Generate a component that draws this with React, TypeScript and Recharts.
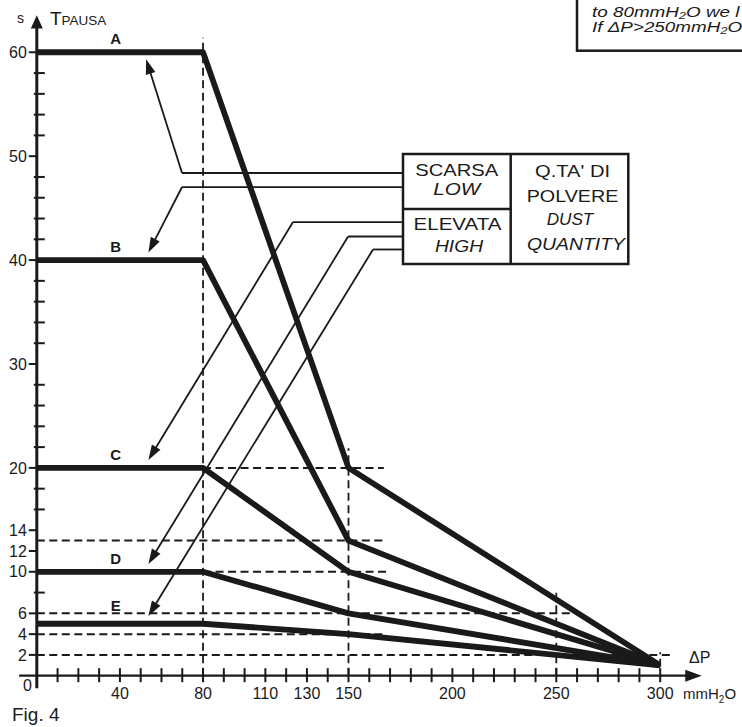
import React from 'react';
import { ComposedChart, Line, XAxis, YAxis, ReferenceLine, ReferenceDot, Label } from 'recharts';

// ---- data ----
const dp = [0, 80, 150, 300];
const curveA = [60, 60, 20, 1];
const curveB = [40, 40, 13, 1];
const curveC = [20, 20, 10, 1];
const curveD = [10, 10, 6, 1];
const curveE = [5, 5, 4, 1];
const curveNames = ['A', 'B', 'C', 'D', 'E'];
const curveStarts = [curveA[0], curveB[0], curveC[0], curveD[0], curveE[0]];

const xTicks = Array.from({ length: 31 }, (_, i) => i * 10);
const xLabelTicks = [40, 80, 110, 130, 150, 200, 250, 300];
const yTicks = Array.from({ length: 30 }, (_, i) => (i + 1) * 2);
const yLabelTicks = [2, 4, 6, 10, 12, 14, 20, 30, 40, 50, 60];

// dashed guide segments (data coordinates)
const guideV = [
  { x: 80, from: 0, to: 61.4 },
  { x: 150, from: 0, to: 21.9 },
  { x: 250, from: 0, to: 8 },
  { x: 300, from: 0.85, to: 2.25 },
];
const guideH = [
  { y: 20, from: 80, to: 167 },
  { y: 13, from: 0, to: 168 },
  { y: 10, from: 80, to: 169 },
  { y: 6, from: 0, to: 258 },
  { y: 4, from: 0, to: 168 },
  { y: 2, from: 0, to: 306 },
];

// leader lines from legend box to curves (data coordinates)
const leaderBoxX = 176.2;
const leaders = [
  { y: 48.38, bend: 69.9, tipX: 52.6, tipY: 59.33 },
  { y: 47.03, bend: 69.9, tipX: 53.7, tipY: 40.73 },
  { y: 43.66, bend: 123.3, tipX: 53.7, tipY: 20.76 },
  { y: 42.27, bend: 149.8, tipX: 53.7, tipY: 10.75 },
  { y: 41.02, bend: 161.8, tipX: 53.7, tipY: 5.75 },
];

const noteLines = ['to 80mmH₂O we l', 'If ΔP>250mmH₂O'];

const rows = dp.map((x, i) => ({
  dp: x,
  A: curveA[i],
  B: curveB[i],
  C: curveC[i],
  D: curveD[i],
  E: curveE[i],
}));

const INK = '#1a1a1a';
const FONT = '"Liberation Sans", Arial, Helvetica, sans-serif';

function makeArrow(len: number, half: number, width: number) {
  return (p: any) => {
    const { x1, y1, x2, y2 } = p;
    if ([x1, y1, x2, y2].some((v) => typeof v !== 'number' || isNaN(v))) return <g />;
    const dx = x2 - x1;
    const dy = y2 - y1;
    const l = Math.hypot(dx, dy) || 1;
    const ux = dx / l;
    const uy = dy / l;
    const bx = x2 - ux * len;
    const by = y2 - uy * len;
    const pts = `${x2},${y2} ${bx - uy * half},${by + ux * half} ${bx + uy * half},${by - ux * half}`;
    return (
      <g>
        <line x1={x1} y1={y1} x2={bx + ux * 1} y2={by + uy * 1} stroke={INK} strokeWidth={width} />
        <polygon points={pts} fill={INK} />
      </g>
    );
  };
}

const AxisArrowX = makeArrow(16.5, 6, 2.2);
const AxisArrowY = makeArrow(13.3, 6, 3);
const LeaderArrow = makeArrow(15, 5, 1.8);

function XTick(props: any) {
  const { x, y, payload } = props;
  const v = payload?.value;
  if (v === 0) {
    return (
      <text x={x - 5} y={y + 15.5} textAnchor="end" fontSize={16} fontFamily={FONT} fill={INK}>
        0
      </text>
    );
  }
  return (
    <g>
      <line x1={x} x2={x} y1={y - 7.5} y2={y + 6.5} stroke={INK} strokeWidth={2} />
      {xLabelTicks.includes(v) && (
        <text x={x} y={y + 23.3} textAnchor="middle" fontSize={16} fontFamily={FONT} fill={INK}>
          {v}
        </text>
      )}
    </g>
  );
}

function YTick(props: any) {
  const { x, y, payload } = props;
  const v = payload?.value;
  if (yLabelTicks.includes(v)) {
    return (
      <g>
        <line x1={x - 8} x2={x} y1={y} y2={y} stroke={INK} strokeWidth={2} />
        <text x={x - 10} y={y + 5.7} textAnchor="end" fontSize={16} fontFamily={FONT} fill={INK}>
          {v}
        </text>
      </g>
    );
  }
  return <line x1={x - 3} x2={x + 8} y1={y} y2={y} stroke={INK} strokeWidth={2} />;
}

const boxText = (label: string, cx: number, y: number, len: number, italic = false) => (
  <text
    key={label}
    x={cx}
    y={y}
    textAnchor="middle"
    fontSize={16.5}
    fontFamily={FONT}
    fontStyle={italic ? 'italic' : 'normal'}
    fill={INK}
    textLength={len}
    lengthAdjust="spacingAndGlyphs"
  >
    {label}
  </text>
);

export default function App() {
  const series = ['A', 'B', 'C', 'D', 'E'];
  return (
    <div style={{ position: 'absolute', left: 0, top: 0, width: 742, height: 727, background: '#fff' }}>
      <ComposedChart
        width={742}
        height={727}
        data={rows}
        margin={{ top: 21.1, right: 81.8, bottom: 0, left: 0 }}
      >
        <XAxis
          dataKey="dp"
          type="number"
          domain={[0, 300]}
          allowDataOverflow
          ticks={xTicks}
          interval={0}
          axisLine={false}
          tickLine={false}
          tickSize={0}
          tickMargin={0}
          height={51.3}
          tick={(p: any) => <XTick {...p} />}
        />
        <YAxis
          type="number"
          domain={[0, 63]}
          allowDataOverflow
          ticks={yTicks}
          interval={0}
          axisLine={false}
          tickLine={false}
          tickSize={0}
          tickMargin={0}
          width={36.8}
          tick={(p: any) => <YTick {...p} />}
        />

        {guideV.map((g, i) => (
          <ReferenceLine
            key={'gv' + i}
            segment={[{ x: g.x, y: g.from }, { x: g.x, y: g.to }]}
            stroke={INK}
            strokeWidth={1.8}
            strokeDasharray="8 4.5"
            ifOverflow="visible"
          />
        ))}
        {guideH.map((g, i) => (
          <ReferenceLine
            key={'gh' + i}
            segment={[{ x: g.from, y: g.y }, { x: g.to, y: g.y }]}
            stroke={INK}
            strokeWidth={2}
            strokeDasharray="8 4.5"
            ifOverflow="visible"
          />
        ))}

        {/* axes with arrows */}
        <ReferenceLine
          segment={[{ x: -8.5, y: 0 }, { x: 320, y: 0 }]}
          ifOverflow="visible"
          shape={AxisArrowX}
        />
        <ReferenceLine
          segment={[{ x: 0, y: -1.2 }, { x: 0, y: 63.57 }]}
          ifOverflow="visible"
          shape={AxisArrowY}
        />

        {/* leader lines */}
        {leaders.map((l, i) => (
          <ReferenceLine
            key={'lh' + i}
            segment={[{ x: leaderBoxX, y: l.y }, { x: l.bend, y: l.y }]}
            stroke={INK}
            strokeWidth={1.8}
            ifOverflow="visible"
          />
        ))}
        {leaders.map((l, i) => (
          <ReferenceLine
            key={'ld' + i}
            segment={[{ x: l.bend, y: l.y }, { x: l.tipX, y: l.tipY }]}
            ifOverflow="visible"
            shape={LeaderArrow}
          />
        ))}

        {series.map((k) => (
          <Line
            key={k}
            dataKey={k}
            type="linear"
            stroke={INK}
            strokeWidth={5.8}
            strokeLinejoin="round"
            dot={false}
            activeDot={false}
            isAnimationActive={false}
          />
        ))}

        {curveNames.map((n, i) => (
          <ReferenceDot
            key={'lab' + n}
            x={38}
            y={curveStarts[i]}
            r={0}
            fill="none"
            stroke="none"
            ifOverflow="visible"
          >
            <Label
              value={n}
              position="top"
              offset={n === 'E' ? 13 : 8}
              fontSize={15}
              fontWeight="bold"
              fontFamily={FONT}
              fill={INK}
            />
          </ReferenceDot>
        ))}

        {/* axis titles */}
        <text x={17} y={23.3} fontSize={14} fontFamily={FONT} fill={INK}>s</text>
        <text x={50} y={25} fontFamily={FONT} fill={INK}>
          <tspan fontSize={19}>T</tspan>
          <tspan fontSize={13.5}>PAUSA</tspan>
        </text>
        <text x={689} y={663} fontSize={16} fontFamily={FONT} fill={INK}>ΔP</text>
        <text x={683} y={699} fontSize={15} fontFamily={FONT} fill={INK}>
          mmH<tspan fontSize={10} dy={4}>2</tspan>
          <tspan dy={-4}>O</tspan>
        </text>
        <text x={12} y={721} fontSize={19} fontFamily={FONT} fill={INK}>Fig. 4</text>

        {/* legend box */}
        <g>
          <rect x={403} y={154} width={225.3} height={110} fill="#fff" stroke={INK} strokeWidth={2.5} />
          <line x1={510.7} x2={510.7} y1={154} y2={264} stroke={INK} strokeWidth={2.5} />
          <line x1={403} x2={510.7} y1={209} y2={209} stroke={INK} strokeWidth={2.5} />
          {boxText('SCARSA', 456.7, 176, 83)}
          {boxText('LOW', 456.7, 195, 47, true)}
          {boxText('ELEVATA', 457.5, 230, 88)}
          {boxText('HIGH', 459, 251.7, 48, true)}
          {boxText("Q.TA' DI", 572.5, 176.7, 75)}
          {boxText('POLVERE', 572.5, 201.7, 91.6)}
          {boxText('DUST', 570, 225, 46.6, true)}
          {boxText('QUANTITY', 576, 250, 98, true)}
        </g>

        {/* note box (cut off at the top-right edge, as in the figure) */}
        <g>
          <rect x={577} y={-20} width={220} height={70.7} fill="#fff" stroke={INK} strokeWidth={2.5} />
          <g transform="translate(592 0) scale(1.3 1)">
            <text x={0} y={17} fontSize={14.5} fontStyle="italic" fontFamily={FONT} fill={INK}>
              {noteLines[0]}
            </text>
            <text x={0} y={32.5} fontSize={14.5} fontStyle="italic" fontFamily={FONT} fill={INK}>
              {noteLines[1]}
            </text>
          </g>
        </g>
      </ComposedChart>
    </div>
  );
}
